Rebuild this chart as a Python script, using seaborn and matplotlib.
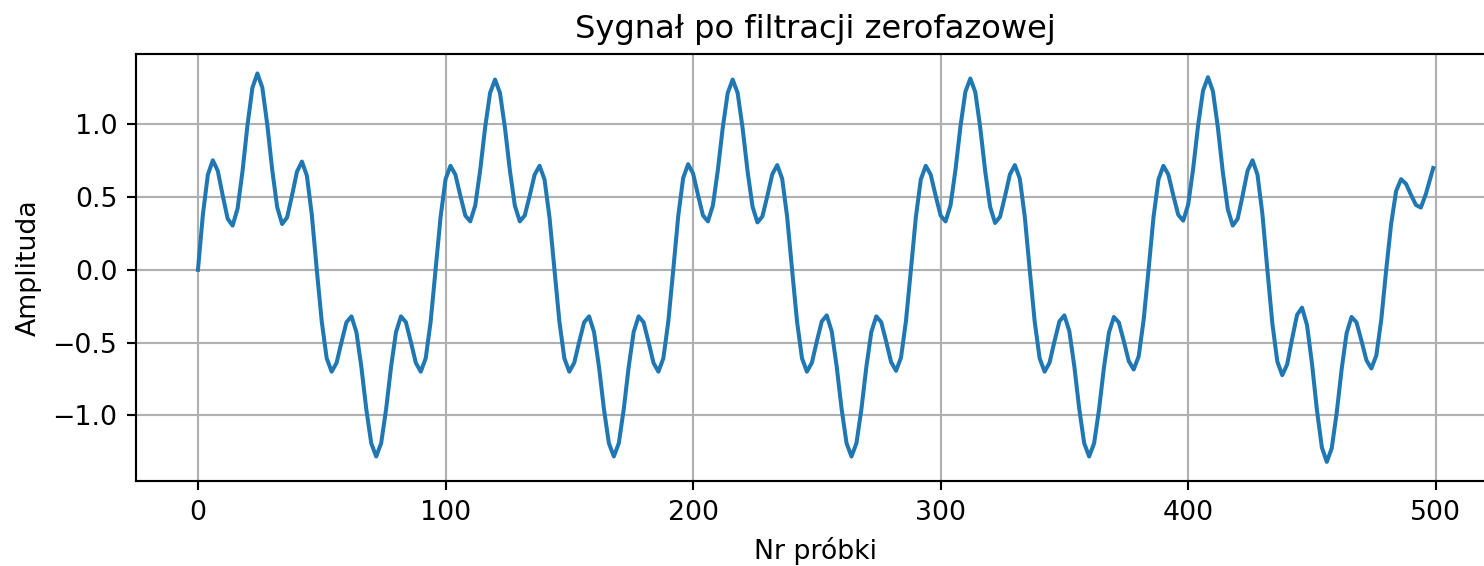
import matplotlib
matplotlib.use("Agg")
import matplotlib.pyplot as plt
import seaborn as sns

# Filtered signal, read every second sample; one list per half period (48 samples)
half_0 = [0.0, 0.382, 0.654, 0.753, 0.681, 0.511, 0.351, 0.304, 0.421, 0.679, 0.994, 1.252,
          1.35, 1.253, 0.998, 0.687, 0.431, 0.315, 0.360, 0.512, 0.675, 0.744, 0.647, 0.377, 0.0]
half_1 = [-0.355, -0.608, -0.70, -0.639, -0.495, -0.360, -0.32, -0.428, -0.667, -0.958, -1.192,
          -1.283, -1.192, -0.958, -0.667, -0.428, -0.32, -0.360, -0.495, -0.639, -0.70, -0.608,
          -0.355, 0.0]
half_2 = [0.362, 0.621, 0.715, 0.654, 0.509, 0.373, 0.333, 0.442, 0.684, 0.978, 1.216, 1.308,
          1.216, 0.978, 0.684, 0.442, 0.333, 0.373, 0.509, 0.654, 0.715, 0.621, 0.362, 0.0]
half_3 = [-0.355, -0.608, -0.70, -0.639, -0.495, -0.360, -0.32, -0.428, -0.667, -0.958, -1.192,
          -1.283, -1.192, -0.958, -0.667, -0.428, -0.32, -0.360, -0.495, -0.639, -0.70, -0.608,
          -0.355, 0.0]
half_4 = [0.368, 0.631, 0.726, 0.663, 0.514, 0.374, 0.333, 0.442, 0.684, 0.978, 1.216, 1.308,
          1.216, 0.976, 0.680, 0.436, 0.326, 0.367, 0.507, 0.657, 0.720, 0.626, 0.365, 0.0]
half_5 = [-0.355, -0.608, -0.70, -0.638, -0.491, -0.354, -0.313, -0.422, -0.662, -0.955, -1.192,
          -1.283, -1.192, -0.958, -0.667, -0.428, -0.32, -0.359, -0.492, -0.634, -0.694, -0.603,
          -0.352, 0.0]
half_6 = [0.362, 0.621, 0.715, 0.654, 0.509, 0.373, 0.333, 0.443, 0.687, 0.983, 1.223, 1.315,
          1.222, 0.979, 0.679, 0.433, 0.322, 0.364, 0.505, 0.656, 0.720, 0.626, 0.365, 0.0]
half_7 = [-0.355, -0.608, -0.70, -0.638, -0.491, -0.354, -0.313, -0.422, -0.662, -0.955, -1.192,
          -1.283, -1.193, -0.959, -0.669, -0.431, -0.324, -0.362, -0.490, -0.627, -0.685, -0.595,
          -0.347, 0.0]
half_8 = [0.362, 0.621, 0.715, 0.655, 0.511, 0.378, 0.338, 0.448, 0.693, 0.991, 1.231, 1.324,
          1.228, 0.979, 0.671, 0.418, 0.304, 0.351, 0.511, 0.681, 0.753, 0.654, 0.382, 0.0]
half_9 = [-0.367, -0.629, -0.724, -0.650, -0.473, -0.309, -0.26, -0.379, -0.642, -0.962, -1.220,
          -1.32, -1.226, -0.983, -0.683, -0.436, -0.324, -0.361, -0.487, -0.621, -0.678, -0.589,
          -0.344, 0.0]
tail = [0.316, 0.541, 0.623, 0.591, 0.516, 0.446, 0.428, 0.52, 0.64, 0.70]

amplitude = (half_0 + half_1 + half_2 + half_3 + half_4 + half_5 + half_6 + half_7
             + half_8 + half_9 + tail)
samples = list(range(0, 499, 2)) + [499]

title = "Sygnał po filtracji zerofazowej"
xlabel = "Nr próbki"
ylabel = "Amplituda"

W, H, DPI = 1484, 566, 193
fig = plt.figure(figsize=(W / DPI, H / DPI), dpi=DPI)
left, right, top, bottom = 136.2, 1495.0, 54.0, 481.3
ax = fig.add_axes([left / W, 1 - bottom / H, (right - left) / W, (bottom - top) / H])

sns.lineplot(x=samples, y=amplitude, ax=ax, color="#1f77b4", linewidth=1.5)
ax.set_title(title)
ax.set_xlabel(xlabel)
ax.set_ylabel(ylabel)
ax.grid(True)

fig.savefig("out.png", dpi=DPI)
